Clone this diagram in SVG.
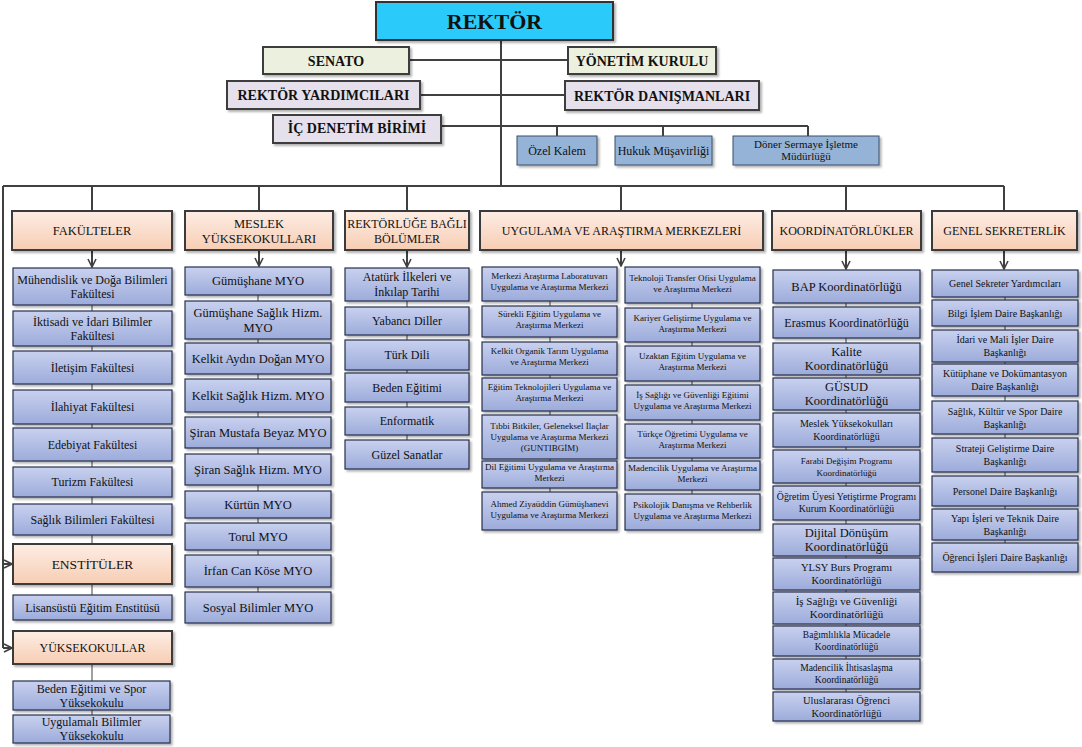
<svg xmlns="http://www.w3.org/2000/svg" width="1082" height="747" viewBox="0 0 1082 747">
<style>
text{font-family:"Liberation Serif","Times New Roman",serif;text-anchor:middle;fill:#111}
.top{font-weight:bold;font-size:14px}
.b{fill:url(#gb);stroke:#27304c;stroke-width:1.2;filter:url(#sh)}
.h{fill:url(#gp);stroke:#3a3a3a;stroke-width:2;filter:url(#sh)}
.g{fill:#EBF1DE;stroke:#3c3c3c;stroke-width:2;filter:url(#sh)}
.l{fill:#E5E0EC;stroke:#3c3c3c;stroke-width:2;filter:url(#sh)}
.s{fill:#95B3D7;stroke:#3b4f6b;stroke-width:1;filter:url(#sh)}
.ht{font-size:12.5px}
.c{fill:none;stroke:#404040;stroke-width:2}
.ct{fill:none;stroke:#404040;stroke-width:1}
.f12{font-size:12px}.f125{font-size:12.5px}.f9{font-size:9px}.f10{font-size:10px}
</style>
<defs>
<linearGradient id="gb" x1="0" y1="0" x2="0" y2="1"><stop offset="0" stop-color="#C9D1EF"/><stop offset="1" stop-color="#9CABDA"/></linearGradient>
<linearGradient id="gp" x1="0" y1="0" x2="0" y2="1"><stop offset="0" stop-color="#FDEDE4"/><stop offset="1" stop-color="#F7CDB4"/></linearGradient>
<filter id="sh" x="-10%" y="-10%" width="130%" height="140%"><feDropShadow dx="2" dy="2" stdDeviation="1" flood-color="#000" flood-opacity="0.3"/></filter>
<marker id="arr" viewBox="0 0 10 10" refX="9" refY="5" markerWidth="5" markerHeight="5" orient="auto" markerUnits="strokeWidth"><path d="M1,1 L9,5 L1,9" fill="none" stroke="#404040" stroke-width="1.6"/></marker>
</defs>
<rect width="1082" height="747" fill="#fff"/>
<g id="connectors">
<path class="c" d="M501 40 V186 M409 60 H568 M420 95 H565 M441 126 H808 M557 126 V136 M663 126 V136 M808 126 V136"/>
<path class="c" d="M3 186 H1004 M92 186 V211 M259 186 V211 M407 186 V211 M621 186 V211 M846 186 V211 M1004 186 V211 M3 186 V648"/>
<path class="c" marker-end="url(#arr)" d="M3 564 H12"/>
<path class="c" marker-end="url(#arr)" d="M3 648 H12"/>
<path class="c" marker-end="url(#arr)" d="M92 251 V267"/>
<path class="c" marker-end="url(#arr)" d="M259 251 V266"/>
<path class="c" marker-end="url(#arr)" d="M407 251 V267"/>
<path class="c" marker-end="url(#arr)" d="M621 251 V266"/>
<path class="c" marker-end="url(#arr)" d="M846 251 V269"/>
<path class="c" marker-end="url(#arr)" d="M1004 251 V269"/>
<path class="ct" d="M92 305 V595 M92 664 V715 M258 295 V592 M407 301 V440 M550 301 V492 M692 303 V494 M846 303 V692 M1005 297 V543"/>
</g>

<g id="rektor"><rect x="376" y="2" width="237" height="38" fill="#2BCBFA" stroke="#333" stroke-width="2" filter="url(#sh)"/><text x="494.5" y="29" style="font-size:22px;font-weight:bold">REKTÖR</text></g>
<g id="senato"><rect class="g" x="263" y="47" width="146" height="27"/><text class="top" x="336" y="65.5">SENATO</text></g>
<g id="yonetim"><rect class="g" x="568" y="47" width="148" height="27"/><text class="top" x="642" y="65.5">YÖNETİM KURULU</text></g>
<g id="yardimcilar"><rect class="l" x="227" y="81" width="193" height="28"/><text class="top" x="323.5" y="100">REKTÖR YARDIMCILARI</text></g>
<g id="danismanlar"><rect class="l" x="565" y="81" width="194" height="29"/><text class="top" x="662" y="100.5">REKTÖR DANIŞMANLARI</text></g>
<g id="icdenetim"><rect class="l" x="273" y="115" width="168" height="28"/><text class="top" x="357" y="133">İÇ DENETİM BİRİMİ</text></g>
<g id="ozelkalem"><rect class="s" x="517" y="136" width="80" height="29"/><text class="f12" x="557" y="154.5">Özel Kalem</text></g>
<g id="hukuk"><rect class="s" x="615" y="136" width="97" height="29"/><text class="f12" x="663.5" y="154.5">Hukuk Müşavirliği</text></g>
<g id="doner"><rect class="s" x="733" y="136" width="146" height="29"/><text style="font-size:11px" x="806" y="148.3">Döner Sermaye İşletme<tspan x="806" y="160.3">Müdürlüğü</tspan></text></g>

<g id="h-fakulteler"><rect class="h" x="12" y="211" width="160" height="39"/><text class="ht" x="92" y="235">FAKÜLTELER</text></g>
<g id="h-myo"><rect class="h" x="185" y="211" width="148" height="39"/><text class="ht" x="259" y="227.5">MESLEK<tspan x="259" y="242.5">YÜKSEKOKULLARI</tspan></text></g>
<g id="h-bolumler"><rect class="h" x="345" y="211" width="124" height="39"/><text class="f12" x="407" y="227.5">REKTÖRLÜĞE BAĞLI<tspan x="407" y="242.5">BÖLÜMLER</tspan></text></g>
<g id="h-uam"><rect class="h" x="480" y="211" width="283" height="39"/><text class="f12" x="621.5" y="235">UYGULAMA VE ARAŞTIRMA MERKEZLERİ</text></g>
<g id="h-koord"><rect class="h" x="772" y="211" width="149" height="39"/><text class="f12" x="846.5" y="235">KOORDİNATÖRLÜKLER</text></g>
<g id="h-genel"><rect class="h" x="932" y="211" width="145" height="39"/><text class="f12" x="1004.5" y="235">GENEL SEKRETERLİK</text></g>
<g id="h-enstituler"><rect class="h" x="13" y="544" width="159" height="40"/><text style="font-size:13.5px" x="92.5" y="568.7">ENSTİTÜLER</text></g>
<g id="h-yuksekokullar"><rect class="h" x="13" y="631" width="159" height="33"/><text class="f12" x="92.5" y="651.7">YÜKSEKOKULLAR</text></g>

<g id="fak1"><rect class="b" x="13" y="268" width="159" height="37"/><text class="f12" x="92.5" y="283.7">Mühendislik ve Doğa Bilimleri<tspan x="92.5" y="297.7">Fakültesi</tspan></text></g>
<g id="fak2"><rect class="b" x="13" y="311" width="159" height="35"/><text class="f12" x="92.5" y="325.7">İktisadi ve İdari Bilimler<tspan x="92.5" y="339.7">Fakültesi</tspan></text></g>
<g id="fak3"><rect class="b" x="13" y="351" width="159" height="33"/><text class="f12" x="92.5" y="371.7">İletişim Fakültesi</text></g>
<g id="fak4"><rect class="b" x="13" y="390" width="159" height="34"/><text class="f12" x="92.5" y="411.2">İlahiyat Fakültesi</text></g>
<g id="fak5"><rect class="b" x="13" y="428" width="159" height="33"/><text class="f12" x="92.5" y="448.7">Edebiyat Fakültesi</text></g>
<g id="fak6"><rect class="b" x="13" y="467" width="159" height="30"/><text class="f12" x="92.5" y="486.2">Turizm Fakültesi</text></g>
<g id="fak7"><rect class="b" x="13" y="504" width="159" height="31"/><text class="f12" x="92.5" y="523.7">Sağlık Bilimleri Fakültesi</text></g>
<g id="enst1"><rect class="b" x="13" y="595" width="159" height="25"/><text class="f12" x="92.5" y="611.7">Lisansüstü Eğitim Enstitüsü</text></g>
<g id="yo1"><rect class="b" x="13" y="681" width="157" height="29"/><text class="f12" x="91.5" y="692.7">Beden Eğitimi ve Spor<tspan x="91.5" y="706.7">Yüksekokulu</tspan></text></g>
<g id="yo2"><rect class="b" x="13" y="715" width="157" height="28"/><text class="f12" x="91.5" y="726.2">Uygulamalı Bilimler<tspan x="91.5" y="740.2">Yüksekokulu</tspan></text></g>

<g id="myo1"><rect class="b" x="185" y="267" width="146" height="28"/><text class="f125" x="258" y="285.4">Gümüşhane MYO</text></g>
<g id="myo2"><rect class="b" x="185" y="301" width="146" height="38"/><text class="f125" x="258" y="316.9">Gümüşhane Sağlık Hizm.<tspan x="258" y="331.9">MYO</tspan></text></g>
<g id="myo3"><rect class="b" x="185" y="343" width="146" height="31"/><text class="f125" x="258" y="362.9">Kelkit Aydın Doğan MYO</text></g>
<g id="myo4"><rect class="b" x="185" y="379" width="146" height="33"/><text class="f125" x="258" y="399.9">Kelkit Sağlık Hizm. MYO</text></g>
<g id="myo5"><rect class="b" x="185" y="417" width="146" height="31"/><text class="f125" x="258" y="436.9">Şiran Mustafa Beyaz MYO</text></g>
<g id="myo6"><rect class="b" x="185" y="454" width="146" height="31"/><text class="f125" x="258" y="473.9">Şiran Sağlık Hizm. MYO</text></g>
<g id="myo7"><rect class="b" x="185" y="491" width="146" height="27"/><text class="f125" x="258" y="508.9">Kürtün MYO</text></g>
<g id="myo8"><rect class="b" x="185" y="523" width="146" height="27"/><text class="f125" x="258" y="540.9">Torul MYO</text></g>
<g id="myo9"><rect class="b" x="185" y="555" width="146" height="32"/><text class="f125" x="258" y="575.4">İrfan Can Köse MYO</text></g>
<g id="myo10"><rect class="b" x="185" y="592" width="146" height="31"/><text class="f125" x="258" y="611.9">Sosyal Bilimler MYO</text></g>

<g id="bol1"><rect class="b" x="345" y="268" width="124" height="33"/><text class="f12" x="407" y="281.2">Atatürk İlkeleri ve<tspan x="407" y="296.2">İnkılap Tarihi</tspan></text></g>
<g id="bol2"><rect class="b" x="345" y="307" width="124" height="28"/><text class="f12" x="407" y="325.2">Yabancı Diller</text></g>
<g id="bol3"><rect class="b" x="345" y="340" width="124" height="30"/><text class="f12" x="407" y="359.2">Türk Dili</text></g>
<g id="bol4"><rect class="b" x="345" y="373" width="124" height="29"/><text class="f12" x="407" y="391.7">Beden Eğitimi</text></g>
<g id="bol5"><rect class="b" x="345" y="407" width="124" height="28"/><text class="f12" x="407" y="425.2">Enformatik</text></g>
<g id="bol6"><rect class="b" x="345" y="440" width="124" height="29"/><text class="f12" x="407" y="458.7">Güzel Sanatlar</text></g>

<g id="uam1"><rect class="b" x="482" y="267" width="135" height="34"/><text class="f9" x="549.5" y="278.7">Merkezi Araştırma Laboratuvarı<tspan x="549.5" y="289.7">Uygulama ve Araştırma Merkezi</tspan></text></g>
<g id="uam2"><rect class="b" x="482" y="306" width="135" height="31"/><text class="f9" x="549.5" y="317.2">Sürekli Eğitim Uygulama ve<tspan x="549.5" y="328.2">Araştırma Merkezi</tspan></text></g>
<g id="uam3"><rect class="b" x="482" y="342" width="135" height="33"/><text class="f9" x="549.5" y="354.2">Kelkit Organik Tarım Uygulama<tspan x="549.5" y="365.2">ve Araştırma Merkezi</tspan></text></g>
<g id="uam4"><rect class="b" x="482" y="378" width="135" height="33"/><text class="f9" x="549.5" y="390.2">Eğitim Teknolojileri Uygulama ve<tspan x="549.5" y="401.2">Araştırma Merkezi</tspan></text></g>
<g id="uam5"><rect class="b" x="482" y="415" width="135" height="44"/><text class="f9" x="549.5" y="429.2">Tıbbi Bitkiler, Geleneksel İlaçlar<tspan x="549.5" y="440.2">Uygulama ve Araştırma Merkezi</tspan><tspan x="549.5" y="451.2">(GUNTIBGİM)</tspan></text></g>
<g id="uam6"><rect class="b" x="482" y="461" width="135" height="27"/><text class="f9" x="549.5" y="470.2">Dil Eğitimi Uygulama ve Araştırma<tspan x="549.5" y="481.2">Merkezi</tspan></text></g>
<g id="uam7"><rect class="b" x="482" y="492" width="135" height="38"/><text class="f9" x="549.5" y="506.7">Ahmed Ziyaüddin Gümüşhanevi<tspan x="549.5" y="517.7">Uygulama ve Araştırma Merkezi</tspan></text></g>

<g id="uam8"><rect class="b" x="625" y="267" width="135" height="36"/><text class="f9" x="692.5" y="280.7">Teknoloji Transfer Ofisi Uygulama<tspan x="692.5" y="291.7">ve Araştırma Merkezi</tspan></text></g>
<g id="uam9"><rect class="b" x="625" y="308" width="135" height="34"/><text class="f9" x="692.5" y="320.7">Kariyer Geliştirme Uygulama ve<tspan x="692.5" y="331.7">Araştırma Merkezi</tspan></text></g>
<g id="uam10"><rect class="b" x="625" y="346" width="135" height="35"/><text class="f9" x="692.5" y="359.2">Uzaktan Eğitim Uygulama ve<tspan x="692.5" y="370.2">Araştırma Merkezi</tspan></text></g>
<g id="uam11"><rect class="b" x="625" y="385" width="135" height="35"/><text class="f9" x="692.5" y="398.2">İş Sağlığı ve Güvenliği Eğitimi<tspan x="692.5" y="409.2">Uygulama ve Araştırma Merkezi</tspan></text></g>
<g id="uam12"><rect class="b" x="625" y="424" width="135" height="34"/><text class="f9" x="692.5" y="436.7">Türkçe Öğretimi Uygulama ve<tspan x="692.5" y="447.7">Araştırma Merkezi</tspan></text></g>
<g id="uam13"><rect class="b" x="625" y="461" width="135" height="29"/><text class="f9" x="692.5" y="471.2">Madencilik Uygulama ve Araştırma<tspan x="692.5" y="482.2">Merkezi</tspan></text></g>
<g id="uam14"><rect class="b" x="625" y="494" width="135" height="36"/><text class="f9" x="692.5" y="507.7">Psikolojik Danışma ve Rehberlik<tspan x="692.5" y="518.7">Uygulama ve Araştırma Merkezi</tspan></text></g>

<g id="k1"><rect class="b" x="773" y="270" width="147" height="33"/><text class="f125" x="846.5" y="290.9">BAP Koordinatörlüğü</text></g>
<g id="k2"><rect class="b" x="773" y="307" width="147" height="31"/><text class="f12" x="846.5" y="326.7">Erasmus Koordinatörlüğü</text></g>
<g id="k3"><rect class="b" x="773" y="343" width="147" height="32"/><text class="f125" x="846.5" y="356.4">Kalite<tspan x="846.5" y="370.4">Koordinatörlüğü</tspan></text></g>
<g id="k4"><rect class="b" x="773" y="378" width="147" height="32"/><text class="f125" x="846.5" y="391.4">GÜSUD<tspan x="846.5" y="405.4">Koordinatörlüğü</tspan></text></g>
<g id="k5"><rect class="b" x="773" y="413" width="147" height="34"/><text class="f10" x="846.5" y="427">Meslek Yüksekokulları<tspan x="846.5" y="440">Koordinatörlüğü</tspan></text></g>
<g id="k6"><rect class="b" x="773" y="450" width="147" height="33"/><text class="f9" x="846.5" y="463.7">Farabi Değişim Programı<tspan x="846.5" y="475.7">Koordinatörlüğü</tspan></text></g>
<g id="k7"><rect class="b" x="773" y="486" width="147" height="34"/><text style="font-size:9.8px" x="846.5" y="500.4">Öğretim Üyesi Yetiştirme Programı<tspan x="846.5" y="512.4">Kurum Koordinatörlüğü</tspan></text></g>
<g id="k8"><rect class="b" x="773" y="524" width="147" height="32"/><text class="f125" x="846.5" y="537.4">Dijital Dönüşüm<tspan x="846.5" y="551.4">Koordinatörlüğü</tspan></text></g>
<g id="k9"><rect class="b" x="773" y="558" width="147" height="32"/><text style="font-size:10.5px" x="846.5" y="571.2">YLSY Burs Programı<tspan x="846.5" y="584.2">Koordinatörlüğü</tspan></text></g>
<g id="k10"><rect class="b" x="773" y="592" width="147" height="32"/><text style="font-size:11px" x="846.5" y="605.4">İş Sağlığı ve Güvenliği<tspan x="846.5" y="618.4">Koordinatörlüğü</tspan></text></g>
<g id="k11"><rect class="b" x="773" y="626" width="147" height="30"/><text style="font-size:9.5px" x="846.5" y="638.3">Bağımlılıkla Mücadele<tspan x="846.5" y="650.3">Koordinatörlüğü</tspan></text></g>
<g id="k12"><rect class="b" x="773" y="659" width="147" height="30"/><text style="font-size:9.5px" x="846.5" y="671.3">Madencilik İhtisaslaşma<tspan x="846.5" y="683.3">Koordinatörlüğü</tspan></text></g>
<g id="k13"><rect class="b" x="773" y="692" width="147" height="29"/><text style="font-size:10.5px" x="846.5" y="703.7">Uluslararası Öğrenci<tspan x="846.5" y="716.7">Koordinatörlüğü</tspan></text></g>

<g id="gs1"><rect class="b" x="932" y="270" width="146" height="27"/><text class="f10" x="1005" y="287">Genel Sekreter Yardımcıları</text></g>
<g id="gs2"><rect class="b" x="932" y="300" width="146" height="26"/><text class="f10" x="1005" y="316.5">Bilgi İşlem Daire Başkanlığı</text></g>
<g id="gs3"><rect class="b" x="932" y="330" width="146" height="32"/><text class="f10" x="1005" y="343">İdari ve Mali İşler Daire<tspan x="1005" y="356">Başkanlığı</tspan></text></g>
<g id="gs4"><rect class="b" x="932" y="364" width="146" height="32"/><text class="f10" x="1005" y="377">Kütüphane ve Dokümantasyon<tspan x="1005" y="390">Daire Başkanlığı</tspan></text></g>
<g id="gs5"><rect class="b" x="932" y="401" width="146" height="33"/><text class="f10" x="1005" y="414.5">Sağlık, Kültür ve Spor Daire<tspan x="1005" y="427.5">Başkanlığı</tspan></text></g>
<g id="gs6"><rect class="b" x="932" y="438" width="146" height="34"/><text class="f10" x="1005" y="452">Strateji Geliştirme Daire<tspan x="1005" y="465">Başkanlığı</tspan></text></g>
<g id="gs7"><rect class="b" x="932" y="476" width="146" height="30"/><text class="f10" x="1005" y="494.5">Personel Daire Başkanlığı</text></g>
<g id="gs8"><rect class="b" x="932" y="509" width="146" height="31"/><text class="f10" x="1005" y="521.5">Yapı İşleri ve Teknik Daire<tspan x="1005" y="534.5">Başkanlığı</tspan></text></g>
<g id="gs9"><rect class="b" x="932" y="543" width="146" height="29"/><text class="f10" x="1005" y="561">Öğrenci İşleri Daire Başkanlığı</text></g>
</svg>
